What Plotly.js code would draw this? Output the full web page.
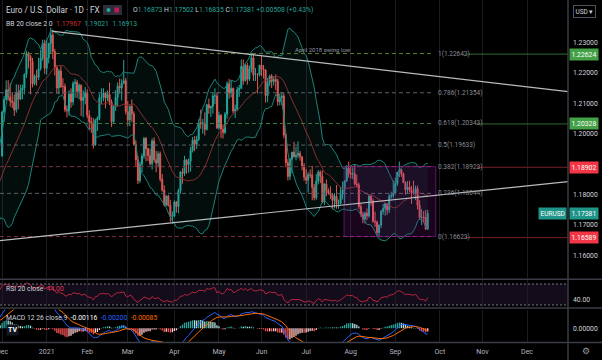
<!DOCTYPE html>
<html><head><meta charset="utf-8">
<script src="https://cdn.plot.ly/plotly-3.0.1.min.js"></script>
<style>html,body{margin:0;padding:0;background:#000;}#chart{width:602px;height:360px;}</style>
</head><body><div id="chart"></div>
<script>
// ---------- DATA ----------
// warm-up closes (Oct-Nov 2020), only used for indicator calculation (outside visible range)
const warmDates = ['2020-10-01','2020-10-02','2020-10-05','2020-10-06','2020-10-07','2020-10-08','2020-10-09','2020-10-12','2020-10-13','2020-10-14','2020-10-15','2020-10-16','2020-10-19','2020-10-20','2020-10-21','2020-10-22','2020-10-23','2020-10-26','2020-10-27','2020-10-28','2020-10-29','2020-10-30',
'2020-11-02','2020-11-03','2020-11-04','2020-11-05','2020-11-06','2020-11-09','2020-11-10','2020-11-11','2020-11-12','2020-11-13','2020-11-16','2020-11-17','2020-11-18','2020-11-19','2020-11-20','2020-11-23','2020-11-24','2020-11-25','2020-11-26','2020-11-27','2020-11-30'];
const warmClose = [1.1750,1.1715,1.1780,1.1735,1.1760,1.1760,1.1825,1.1815,1.1745,1.1745,1.1705,1.1720,1.1770,1.1820,1.1860,1.1815,1.1860,1.1810,1.1795,1.1745,1.1675,1.1645,
1.1640,1.1715,1.1720,1.1830,1.1875,1.1815,1.1810,1.1775,1.1810,1.1835,1.1855,1.1860,1.1850,1.1870,1.1860,1.1840,1.1890,1.1915,1.1915,1.1960,1.1927];

const dates = [
'2020-12-01','2020-12-02','2020-12-03','2020-12-04','2020-12-07','2020-12-08','2020-12-09','2020-12-10','2020-12-11','2020-12-14','2020-12-15','2020-12-16','2020-12-17','2020-12-18','2020-12-21','2020-12-22','2020-12-23','2020-12-24','2020-12-28','2020-12-29','2020-12-30','2020-12-31',
'2021-01-04','2021-01-05','2021-01-06','2021-01-07','2021-01-08','2021-01-11','2021-01-12','2021-01-13','2021-01-14','2021-01-15','2021-01-18','2021-01-19','2021-01-20','2021-01-21','2021-01-22','2021-01-25','2021-01-26','2021-01-27','2021-01-28','2021-01-29',
'2021-02-01','2021-02-02','2021-02-03','2021-02-04','2021-02-05','2021-02-08','2021-02-09','2021-02-10','2021-02-11','2021-02-12','2021-02-15','2021-02-16','2021-02-17','2021-02-18','2021-02-19','2021-02-22','2021-02-23','2021-02-24','2021-02-25','2021-02-26',
'2021-03-01','2021-03-02','2021-03-03','2021-03-04','2021-03-05','2021-03-08','2021-03-09','2021-03-10','2021-03-11','2021-03-12','2021-03-15','2021-03-16','2021-03-17','2021-03-18','2021-03-19','2021-03-22','2021-03-23','2021-03-24','2021-03-25','2021-03-26','2021-03-29','2021-03-30','2021-03-31',
'2021-04-01','2021-04-02','2021-04-05','2021-04-06','2021-04-07','2021-04-08','2021-04-09','2021-04-12','2021-04-13','2021-04-14','2021-04-15','2021-04-16','2021-04-19','2021-04-20','2021-04-21','2021-04-22','2021-04-23','2021-04-26','2021-04-27','2021-04-28','2021-04-29','2021-04-30',
'2021-05-03','2021-05-04','2021-05-05','2021-05-06','2021-05-07','2021-05-10','2021-05-11','2021-05-12','2021-05-13','2021-05-14','2021-05-17','2021-05-18','2021-05-19','2021-05-20','2021-05-21','2021-05-24','2021-05-25','2021-05-26','2021-05-27','2021-05-28','2021-05-31',
'2021-06-01','2021-06-02','2021-06-03','2021-06-04','2021-06-07','2021-06-08','2021-06-09','2021-06-10','2021-06-11','2021-06-14','2021-06-15','2021-06-16','2021-06-17','2021-06-18','2021-06-21','2021-06-22','2021-06-23','2021-06-24','2021-06-25','2021-06-28','2021-06-29','2021-06-30',
'2021-07-01','2021-07-02','2021-07-05','2021-07-06','2021-07-07','2021-07-08','2021-07-09','2021-07-12','2021-07-13','2021-07-14','2021-07-15','2021-07-16','2021-07-19','2021-07-20','2021-07-21','2021-07-22','2021-07-23','2021-07-26','2021-07-27','2021-07-28','2021-07-29','2021-07-30',
'2021-08-02','2021-08-03','2021-08-04','2021-08-05','2021-08-06','2021-08-09','2021-08-10','2021-08-11','2021-08-12','2021-08-13','2021-08-16','2021-08-17','2021-08-18','2021-08-19','2021-08-20','2021-08-23','2021-08-24','2021-08-25','2021-08-26','2021-08-27','2021-08-30','2021-08-31',
'2021-09-01','2021-09-02','2021-09-03','2021-09-06','2021-09-07','2021-09-08','2021-09-09','2021-09-10','2021-09-13','2021-09-14','2021-09-15','2021-09-16','2021-09-17','2021-09-20','2021-09-21','2021-09-22','2021-09-23'];

const open = [
1.1927,1.2071,1.2113,1.2145,1.2121,1.2108,1.2103,1.2079,1.2136,1.2114,1.2144,1.2151,1.2196,1.2265,1.2255,1.2239,1.2165,1.2190,1.2186,1.2215,1.2250,1.2298,
1.2216,1.2250,1.2297,1.2325,1.2271,1.2219,1.2151,1.2207,1.2156,1.2156,1.2080,1.2076,1.2131,1.2105,1.2166,1.2170,1.2140,1.2160,1.2110,1.2120,
1.2135,1.2061,1.2040,1.2035,1.1963,1.2045,1.2051,1.2119,1.2120,1.2135,1.2118,1.2130,1.2105,1.2040,1.2090,1.2120,1.2157,1.2151,1.2166,1.2175,
1.2074,1.2046,1.2091,1.2066,1.1966,1.1915,1.1846,1.1900,1.1927,1.1985,1.1951,1.1929,1.1902,1.1977,1.1915,1.1904,1.1935,1.1851,1.1815,1.1766,1.1795,1.1765,1.1729,
1.1730,1.1776,1.1761,1.1813,1.1875,1.1870,1.1915,1.1899,1.1910,1.1946,1.1979,1.1966,1.1982,1.2037,1.2034,1.2035,1.2015,1.2096,1.2085,1.2090,1.2125,1.2125,
1.2020,1.2061,1.2016,1.2005,1.2065,1.2165,1.2135,1.2150,1.2075,1.2081,1.2145,1.2150,1.2222,1.2175,1.2225,1.2180,1.2214,1.2250,1.2193,1.2195,1.2194,
1.2226,1.2213,1.2210,1.2126,1.2168,1.2190,1.2172,1.2179,1.2174,1.2106,1.2120,1.2125,1.1996,1.1906,1.1860,1.1917,1.1940,1.1925,1.1930,1.1936,1.1925,1.1895,
1.1858,1.1848,1.1866,1.1865,1.1824,1.1790,1.1845,1.1875,1.1861,1.1776,1.1835,1.1812,1.1805,1.1800,1.1781,1.1795,1.1770,1.1771,1.1801,1.1816,1.1845,1.1887,
1.1870,1.1868,1.1869,1.1835,1.1832,1.1761,1.1735,1.1720,1.1740,1.1730,1.1795,1.1780,1.1712,1.1710,1.1675,1.1700,1.1745,1.1755,1.1770,1.1750,1.1795,1.1797,
1.1806,1.1837,1.1874,1.1881,1.1869,1.1840,1.1816,1.1825,1.1815,1.1805,1.1805,1.1820,1.1765,1.1725,1.1726,1.1725,1.16873];

const high = [
1.2077,1.2124,1.2176,1.2177,1.2167,1.2138,1.2129,1.2163,1.2162,1.2162,1.2162,1.2199,1.2273,1.2270,1.2260,1.2250,1.2196,1.2211,1.2250,1.2276,1.2310,1.2310,
1.2310,1.2300,1.2349,1.2335,1.2280,1.2226,1.2214,1.2223,1.2183,1.2166,1.2094,1.2143,1.2150,1.2173,1.2181,1.2177,1.2166,1.2163,1.2143,1.2154,
1.2146,1.2078,1.2055,1.2052,1.2050,1.2058,1.2133,1.2150,1.2150,1.2139,1.2143,1.2169,1.2113,1.2094,1.2144,1.2169,1.2182,1.2180,1.2243,1.2184,
1.2108,1.2093,1.2113,1.2074,1.1978,1.1928,1.1909,1.1936,1.1990,1.1990,1.1955,1.1952,1.1985,1.1989,1.1944,1.1943,1.1942,1.1868,1.1831,1.1798,1.1800,1.1783,1.1745,
1.1782,1.1779,1.1820,1.1877,1.1887,1.1928,1.1915,1.1919,1.1957,1.1990,1.1993,1.1994,1.2048,1.2080,1.2049,1.2071,1.2099,1.2116,1.2093,1.2134,1.2150,1.2136,
1.2073,1.2065,1.2031,1.2072,1.2173,1.2181,1.2178,1.2152,1.2096,1.2155,1.2161,1.2245,1.2245,1.2231,1.2234,1.2225,1.2266,1.2262,1.2217,1.2200,1.2227,
1.2255,1.2227,1.2213,1.2184,1.2194,1.2197,1.2190,1.2196,1.2182,1.2133,1.2138,1.2136,1.2003,1.1917,1.1921,1.1941,1.1974,1.1958,1.1975,1.1944,1.1925,1.1904,
1.1884,1.1874,1.1883,1.1895,1.1835,1.1868,1.1881,1.1880,1.1880,1.1838,1.1850,1.1821,1.1828,1.1806,1.1805,1.1832,1.1784,1.1826,1.1843,1.1848,1.1897,1.1909,
1.1892,1.1890,1.1900,1.1866,1.1840,1.1772,1.1744,1.1744,1.1755,1.1800,1.1800,1.1787,1.1744,1.1715,1.1702,1.1750,1.1770,1.1773,1.1772,1.1803,1.1810,1.1846,
1.1857,1.1871,1.1909,1.1885,1.1873,1.1844,1.1845,1.1846,1.1829,1.1846,1.1830,1.1830,1.1782,1.1752,1.1746,1.1750,1.17502];

const low = [
1.1925,1.2040,1.2110,1.2110,1.2090,1.2085,1.2059,1.2070,1.2081,1.2113,1.2114,1.2130,1.2184,1.2215,1.2130,1.2153,1.2160,1.2159,1.2177,1.2208,1.2241,1.2198,
1.2195,1.2232,1.2265,1.2246,1.2192,1.2132,1.2130,1.2151,1.2130,1.2071,1.2054,1.2060,1.2086,1.2094,1.2119,1.2118,1.2113,1.2059,1.2055,1.2097,
1.2052,1.2011,1.2003,1.1952,1.1962,1.2010,1.2045,1.2097,1.2107,1.2084,1.2108,1.2095,1.2023,1.2033,1.2076,1.2090,1.2132,1.2110,1.2164,1.2064,
1.2025,1.2026,1.2040,1.1962,1.1893,1.1835,1.1838,1.1874,1.1918,1.1910,1.1911,1.1897,1.1883,1.1906,1.1874,1.1890,1.1843,1.1810,1.1761,1.1762,1.1761,1.1711,1.1704,
1.1726,1.1741,1.1739,1.1803,1.1836,1.1862,1.1869,1.1872,1.1876,1.1939,1.1943,1.1951,1.1977,1.2017,1.2001,1.1995,1.2011,1.2066,1.2056,1.2067,1.2098,1.2016,
1.2014,1.1986,1.1985,1.1999,1.2050,1.2116,1.2120,1.2067,1.2052,1.2076,1.2122,1.2148,1.2162,1.2172,1.2162,1.2174,1.2202,1.2174,1.2174,1.2133,1.2189,
1.2190,1.2182,1.2103,1.2105,1.2157,1.2151,1.2159,1.2144,1.2092,1.2094,1.2094,1.1986,1.1890,1.1847,1.1848,1.1870,1.1922,1.1913,1.1920,1.1912,1.1880,1.1846,
1.1835,1.1807,1.1855,1.1782,1.1781,1.1783,1.1834,1.1838,1.1772,1.1766,1.1795,1.1800,1.1786,1.1752,1.1755,1.1754,1.1754,1.1768,1.1784,1.1771,1.1842,1.1856,
1.1853,1.1851,1.1831,1.1824,1.1753,1.1727,1.1706,1.1705,1.1716,1.1724,1.1764,1.1708,1.1694,1.1665,1.1664,1.1690,1.1734,1.1731,1.1734,1.1740,1.1787,1.1788,
1.1801,1.1829,1.1858,1.1859,1.1838,1.1800,1.1803,1.1808,1.1770,1.1800,1.1782,1.1751,1.1718,1.1700,1.1710,1.1684,1.16835];

const close = [
1.2071,1.2113,1.2145,1.2121,1.2108,1.2103,1.2079,1.2136,1.2114,1.2144,1.2151,1.2196,1.2265,1.2255,1.2239,1.2165,1.2190,1.2186,1.2215,1.2250,1.2298,1.2216,
1.2250,1.2297,1.2325,1.2271,1.2219,1.2151,1.2207,1.2156,1.2156,1.2080,1.2076,1.2131,1.2105,1.2166,1.2170,1.2140,1.2160,1.2110,1.2120,1.2135,
1.2061,1.2040,1.2035,1.1963,1.2045,1.2051,1.2119,1.2120,1.2135,1.2118,1.2130,1.2105,1.2040,1.2090,1.2120,1.2157,1.2151,1.2166,1.2175,1.2074,
1.2046,1.2091,1.2066,1.1966,1.1915,1.1846,1.1900,1.1927,1.1985,1.1951,1.1929,1.1902,1.1977,1.1915,1.1904,1.1935,1.1851,1.1815,1.1766,1.1795,1.1765,1.1729,1.1730,
1.1776,1.1761,1.1813,1.1875,1.1870,1.1915,1.1899,1.1910,1.1946,1.1979,1.1966,1.1982,1.2037,1.2034,1.2035,1.2015,1.2096,1.2085,1.2090,1.2125,1.2125,1.2020,
1.2061,1.2016,1.2005,1.2065,1.2165,1.2135,1.2150,1.2075,1.2081,1.2145,1.2150,1.2222,1.2175,1.2225,1.2180,1.2214,1.2250,1.2193,1.2195,1.2194,1.2226,
1.2213,1.2210,1.2126,1.2168,1.2190,1.2172,1.2179,1.2174,1.2106,1.2120,1.2125,1.1996,1.1906,1.1860,1.1917,1.1940,1.1925,1.1930,1.1936,1.1925,1.1895,1.1858,
1.1848,1.1866,1.1865,1.1824,1.1790,1.1845,1.1875,1.1861,1.1776,1.1835,1.1812,1.1805,1.1800,1.1781,1.1795,1.1770,1.1771,1.1801,1.1816,1.1845,1.1887,1.1870,
1.1868,1.1869,1.1835,1.1832,1.1761,1.1735,1.1720,1.1740,1.1730,1.1795,1.1780,1.1712,1.1710,1.1675,1.1700,1.1745,1.1755,1.1770,1.1750,1.1795,1.1797,1.1806,
1.1837,1.1874,1.1881,1.1869,1.1840,1.1816,1.1825,1.1815,1.1805,1.1805,1.1820,1.1765,1.1725,1.1726,1.1725,1.16873,1.17381];

// axis ticks
const monthTicks  = ['2020-12-01','2021-01-04','2021-02-01','2021-03-01','2021-04-01','2021-05-03','2021-06-01','2021-07-01','2021-08-02','2021-09-01','2021-10-01','2021-11-01','2021-12-01'];
const monthLabels = ['Dec','2021','Feb','Mar','Apr','May','Jun','Jul','Aug','Sep','Oct','Nov','Dec'];
const priceTicks  = [1.16,1.17,1.18,1.20,1.21,1.22,1.23];

// drawings
const fibLevels = ['1','0.786','0.618','0.5','0.382','0.236','0'];
const fibPrices = [1.22642,1.21354,1.20343,1.19633,1.18923,1.18044,1.16623];
const fibColors = ['#5d7f2e','#5d606b','#3f7a3c','#5d606b','#7a2f3d','#5d606b','#7a2f3d'];
const hLinePrices = [1.22624,1.20328,1.18902,1.16589];
const hLineColors = ['#2f6b33','#2f6b33','#7a1f27','#7a1f27'];
const hLineBox    = ['#43a047','#43a047','#f23645','#f23645'];
const lastPrice = 1.17381;
const upperTrend = {x0:'2021-01-06 12:00', y0:1.2338, x1:'2021-12-29 05:00', y1:1.2139};
const lowerTrend = {x0:'2020-11-27 23:00', y0:1.1649, x1:'2021-12-29 05:00', y1:1.1843};
const rangeBox = {x0:'2021-07-27 17:00', x1:'2021-09-29 00:00', y0:1.16623, y1:1.18923};

// ---------- INDICATORS ----------
const allDates = warmDates.concat(dates);
const allClose = warmClose.concat(close);
const N = allClose.length;

function smaAt(a, i, n){ let s=0; for(let k=i-n+1;k<=i;k++) s+=a[k]; return s/n; }
const bbX=[], bbMid=[], bbUp=[], bbLo=[];
for(let i=19;i<N;i++){
  const m = smaAt(allClose,i,20);
  let v=0; for(let k=i-19;k<=i;k++) v+=(allClose[k]-m)*(allClose[k]-m);
  const sd=Math.sqrt(v/20);
  bbX.push(allDates[i]); bbMid.push(m); bbUp.push(m+2*sd); bbLo.push(m-2*sd);
}
// RSI 20 (Wilder)
const rsiX=[], rsiY=[];
{
  const n=20; let ag=0, al=0;
  for(let i=1;i<=n;i++){ const d=allClose[i]-allClose[i-1]; if(d>0) ag+=d; else al-=d; }
  ag/=n; al/=n;
  rsiX.push(allDates[n]); rsiY.push(al===0?100:100-100/(1+ag/al));
  for(let i=n+1;i<N;i++){
    const d=allClose[i]-allClose[i-1];
    ag=(ag*(n-1)+Math.max(d,0))/n; al=(al*(n-1)+Math.max(-d,0))/n;
    rsiX.push(allDates[i]); rsiY.push(al===0?100:100-100/(1+ag/al));
  }
}
// MACD 12 26 9
function ema(a, n){
  const out=new Array(a.length).fill(null); let start=a.findIndex(v=>v!==null);
  if(start<0) return out;
  let s=0; for(let k=start;k<start+n;k++) s+=a[k];
  let e=s/n; out[start+n-1]=e; const al=2/(n+1);
  for(let k=start+n;k<a.length;k++){ e=al*a[k]+(1-al)*e; out[k]=e; }
  return out;
}
const e12=ema(allClose,12), e26=ema(allClose,26);
const macd=allClose.map((v,i)=>(e12[i]!==null&&e26[i]!==null)?e12[i]-e26[i]:null);
const sig=ema(macd,9);
const mX=[], mY=[], sY=[], hY=[], hC=[];
let prevH=null;
for(let i=0;i<N;i++){
  if(sig[i]===null) continue;
  const h=macd[i]-sig[i];
  let c;
  if(h>=0) c=(prevH!==null&&h<prevH)?'#b2dfdb':'#26a69a';
  else c=(prevH!==null&&h>prevH)?'#ffcdd2':'#ff5252';
  mX.push(allDates[i]); mY.push(macd[i]); sY.push(sig[i]); hY.push(h); hC.push(c);
  prevH=h;
}

// ---------- LAYOUT HELPERS ----------
const W=568, H=342;
const PX=x=>x/W, PY=y=>(H-y)/H;
const FONT='Roboto, "Liberation Sans", Arial, sans-serif';

const traces=[
 {type:'scatter',mode:'lines',x:bbX,y:bbUp,line:{color:'#1b8378',width:1},hoverinfo:'skip',showlegend:false,xaxis:'x',yaxis:'y'},
 {type:'scatter',mode:'lines',x:bbX,y:bbLo,line:{color:'#1b8378',width:1},fill:'tonexty',fillcolor:'rgba(38,166,154,0.08)',hoverinfo:'skip',showlegend:false,xaxis:'x',yaxis:'y'},
 {type:'scatter',mode:'lines',x:bbX,y:bbMid,line:{color:'#8a2e2e',width:1},hoverinfo:'skip',showlegend:false,xaxis:'x',yaxis:'y'},
 {type:'candlestick',x:dates,open:open,high:high,low:low,close:close,xaxis:'x',yaxis:'y',
  increasing:{line:{color:'#26a69a',width:1},fillcolor:'#26a69a'},
  decreasing:{line:{color:'#ef5350',width:1},fillcolor:'#ef5350'},
  whiskerwidth:0,hoverinfo:'skip',showlegend:false},
 {type:'scatter',mode:'lines',x:rsiX,y:rsiY,line:{color:'#b8243f',width:1},hoverinfo:'skip',showlegend:false,xaxis:'x',yaxis:'y2'},
 {type:'bar',x:mX,y:hY,marker:{color:hC,line:{width:0}},hoverinfo:'skip',showlegend:false,xaxis:'x',yaxis:'y3'},
 {type:'scatter',mode:'lines',x:mX,y:mY,line:{color:'#2962ff',width:1},hoverinfo:'skip',showlegend:false,xaxis:'x',yaxis:'y3'},
 {type:'scatter',mode:'lines',x:mX,y:sY,line:{color:'#ff6d00',width:1},hoverinfo:'skip',showlegend:false,xaxis:'x',yaxis:'y3'}
];

const shapes=[];
const annotations=[];
// RSI band
shapes.push({type:'rect',xref:'paper',yref:'y2',x0:0,x1:1,y0:30,y1:70,fillcolor:'rgba(126,87,194,0.14)',line:{width:0},layer:'below'});
[70,30].forEach(v=>shapes.push({type:'line',xref:'paper',yref:'y2',x0:0,x1:1,y0:v,y1:v,line:{color:'#787b86',width:1,dash:'2px,2px'}}));
// fib levels
fibPrices.forEach((p,i)=>{
  shapes.push({type:'line',xref:'paper',yref:'y',x0:0,x1:PX(434),y0:p,y1:p,line:{color:fibColors[i],width:1,dash:'4px,3px'}});
  annotations.push({xref:'paper',yref:'y',x:PX(436),y:p,xanchor:'left',yanchor:'middle',showarrow:false,
    text:fibLevels[i]+'('+p.toFixed(5)+')',font:{family:FONT,size:6.5,color:'#8a8d96'}});
});
// horizontal lines + price boxes
const hStart=[466,477,477,466];
hLinePrices.forEach((p,i)=>{
  shapes.push({type:'line',xref:'paper',yref:'y',x0:PX(hStart[i]),x1:1,y0:p,y1:p,line:{color:hLineColors[i],width:1}});
  annotations.push({xref:'paper',yref:'y',x:PX(569),y:p,xanchor:'left',yanchor:'middle',showarrow:false,
    text:p.toFixed(5),bgcolor:hLineBox[i],borderpad:1.5,font:{family:FONT,size:6.8,color:'#ffffff'}});
});
annotations.push({xref:'paper',yref:'y',x:PX(569),y:lastPrice,xanchor:'left',yanchor:'middle',showarrow:false,
  text:lastPrice.toFixed(5),bgcolor:'#1f9488',borderpad:1.5,font:{family:FONT,size:6.8,color:'#ffffff'}});
annotations.push({xref:'paper',yref:'y',x:PX(567),y:lastPrice,xanchor:'right',yanchor:'middle',showarrow:false,
  text:'EURUSD',bgcolor:'#1f9488',borderpad:1.5,font:{family:FONT,size:6.5,color:'#ffffff'}});
// range box
shapes.push({type:'rect',xref:'x',yref:'y',x0:rangeBox.x0,x1:rangeBox.x1,y0:rangeBox.y0,y1:rangeBox.y1,
  fillcolor:'rgba(156,39,176,0.16)',line:{color:'rgba(156,39,176,0.55)',width:1},layer:'above'});
// trend lines
[upperTrend,lowerTrend].forEach(t=>shapes.push({type:'line',xref:'x',yref:'y',x0:t.x0,y0:t.y0,x1:t.x1,y1:t.y1,line:{color:'#b9bbbe',width:1.2},layer:'above'}));
// separators
[279.3,308].forEach(y=>shapes.push({type:'line',xref:'paper',yref:'paper',x0:0,x1:602/W,y0:PY(y),y1:PY(y),line:{color:'#3a3d46',width:1.5}}));
shapes.push({type:'line',xref:'paper',yref:'paper',x0:0,x1:602/W,y0:PY(342.5),y1:PY(342.5),line:{color:'#3a3d46',width:1.5}});
shapes.push({type:'line',xref:'paper',yref:'paper',x0:1,x1:1,y0:PY(360),y1:1,line:{color:'#3a3d46',width:1.5}});
// header icon pill
shapes.push({type:'rect',xref:'paper',yref:'paper',x0:PX(103),x1:PX(122),y0:PY(15),y1:PY(5),fillcolor:'#2a2e39',line:{width:0}});
shapes.push({type:'circle',xref:'paper',yref:'paper',x0:PX(106.5),x1:PX(110.5),y0:PY(12),y1:PY(8),fillcolor:'#26a69a',line:{width:0}});
shapes.push({type:'rect',xref:'paper',yref:'paper',x0:PX(114.5),x1:PX(119),y0:PY(12.5),y1:PY(7.5),fillcolor:'#c2185b',line:{width:0}});

// header texts
annotations.push({xref:'paper',yref:'paper',x:PX(4),y:PY(10),xanchor:'left',yanchor:'middle',showarrow:false,
  text:'Euro / U.S. Dollar · 1D · FX',font:{family:FONT,size:8.2,color:'#d1d4dc'}});
const tc='#26a69a';
annotations.push({xref:'paper',yref:'paper',x:PX(131),y:PY(10),xanchor:'left',yanchor:'middle',showarrow:false,
  text:'O<span style="color:'+tc+'">1.16873</span> H<span style="color:'+tc+'">1.17502</span> L<span style="color:'+tc+'">1.16835</span> C<span style="color:'+tc+'">1.17381</span> <span style="color:'+tc+'">+0.00508 (+0.43%)</span>',
  font:{family:FONT,size:6.8,color:'#d1d4dc'}});
annotations.push({xref:'paper',yref:'paper',x:PX(4),y:PY(24),xanchor:'left',yanchor:'middle',showarrow:false,
  text:'BB 20 close 2 0  <span style="color:#c62f2f">1.17967</span>  <span style="color:'+tc+'">1.19021</span>  <span style="color:'+tc+'">1.16913</span>',
  font:{family:FONT,size:6.8,color:'#d1d4dc'}});
annotations.push({xref:'paper',yref:'paper',x:PX(323),y:PY(49.5),xanchor:'center',yanchor:'middle',showarrow:false,
  text:'April 2018 swing low',font:{family:FONT,size:6,color:'#9598a1'}});
annotations.push({xref:'paper',yref:'paper',x:PX(4),y:PY(289),xanchor:'left',yanchor:'middle',showarrow:false,
  text:'RSI 20 close  <span style="color:#e0355a">44.00</span>',font:{family:FONT,size:6.8,color:'#d1d4dc'}});
annotations.push({xref:'paper',yref:'paper',x:PX(4),y:PY(318),xanchor:'left',yanchor:'middle',showarrow:false,
  text:'MACD 12 26 close 9  <span style="color:#ffffff">-0.00116</span>  <span style="color:#2962ff">-0.00200</span>  <span style="color:#ff6d00">-0.00085</span>',
  font:{family:FONT,size:6.8,color:'#d1d4dc'}});
annotations.push({xref:'paper',yref:'paper',x:PX(12),y:PY(330),xanchor:'center',yanchor:'middle',showarrow:false,
  text:'<b>TV</b>',font:{family:FONT,size:7,color:'#ffffff'},bgcolor:'#131722',borderpad:1});
annotations.push({xref:'paper',yref:'paper',x:PX(584),y:PY(11),xanchor:'center',yanchor:'middle',showarrow:false,
  text:'USD ▾',font:{family:FONT,size:6.5,color:'#d1d4dc'},bordercolor:'#50535e',borderwidth:1,borderpad:1.5,bgcolor:'#000'});
annotations.push({xref:'paper',yref:'paper',x:PX(586),y:PY(351),xanchor:'center',yanchor:'middle',showarrow:false,
  text:'⚙',font:{family:'DejaVu Sans',size:9,color:'#9598a1'}});

const layout={
  width:602,height:360,margin:{l:0,r:34,t:0,b:18},
  paper_bgcolor:'#000000',plot_bgcolor:'#000000',
  font:{family:FONT,color:'#b2b5be',size:7},
  showlegend:false,bargap:0.35,
  xaxis:{type:'date',anchor:'y3',domain:[0,1],range:['2020-11-27 23:00','2021-12-29 05:00'],
    rangebreaks:[{bounds:['sat','mon']},{values:['2020-12-25','2021-01-01']}],
    rangeslider:{visible:false},tickmode:'array',tickvals:monthTicks,ticktext:monthLabels,
    showgrid:true,gridcolor:'#1a1c21',gridwidth:1,zeroline:false,showline:false,ticks:'',ticklabelstandoff:4,
    tickfont:{family:FONT,size:7,color:'#b2b5be'},ticklabeloverflow:'allow',fixedrange:true},
  yaxis:{domain:[(H-278)/H,1],range:[1.152599,1.244046],side:'right',anchor:'x',
    tickmode:'array',tickvals:priceTicks,ticktext:priceTicks.map(v=>v.toFixed(5)),
    showgrid:false,zeroline:false,showline:false,ticks:'',ticklabelstandoff:4,
    tickfont:{family:FONT,size:6.8,color:'#d1d4dc'}},
  yaxis2:{domain:[(H-307)/H,(H-280)/H],range:[26.19,77.62],side:'right',anchor:'x',
    tickmode:'array',tickvals:[40],ticktext:['40.00'],showgrid:false,zeroline:false,ticks:'',ticklabelstandoff:4,
    tickfont:{family:FONT,size:6.8,color:'#d1d4dc'}},
  yaxis3:{domain:[0,(H-309.5)/H],range:[-0.00481,0.0066],side:'right',anchor:'x',
    tickmode:'array',tickvals:[0],ticktext:['0.00000'],showgrid:false,zeroline:false,ticks:'',ticklabelstandoff:4,
    tickfont:{family:FONT,size:6.8,color:'#d1d4dc'}},
  shapes:shapes,annotations:annotations
};
Plotly.newPlot('chart',traces,layout,{staticPlot:true,displayModeBar:false});
</script></body></html>
